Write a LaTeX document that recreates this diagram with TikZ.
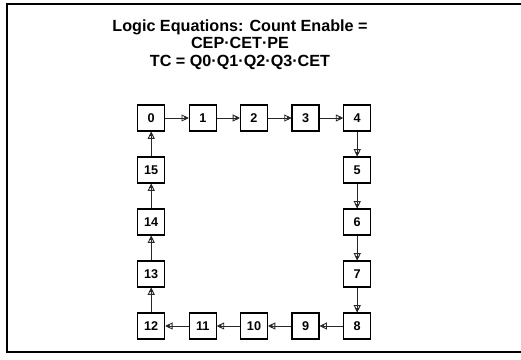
\documentclass[tikz,border=0pt]{standalone}
\usepackage{fontspec}
\setmainfont{Liberation Sans}
\usepackage{xcolor}
\definecolor{inkgray}{RGB}{40,40,40}
\usetikzlibrary{arrows.meta}

\begin{document}
\begin{tikzpicture}[
  state/.style={draw=black,line width=1.1pt,minimum width=6.75mm,minimum height=6.5mm,inner sep=0pt,font=\fontsize{9}{10}\selectfont\bfseries},
  link/.style={draw=inkgray,line width=0.6pt,-{Triangle[open,length=5pt,width=5pt,sep=-3pt]Triangle[length=3pt,width=3pt]}},
  frame/.style={line width=1.4pt},
  title/.style={font=\fontsize{11.5}{12.2}\selectfont\bfseries,align=center}
]
  \useasboundingbox (0,0) rectangle (13.025,8.975);

  % Frame (open at the right)
  \draw[frame] (13.2,8.875) -- (0.175,8.875) -- (0.175,0.175) -- (13.2,0.175);

  % Equations
  \node[title] (eqn) at (6.0,7.86) {Logic Equations: Count Enable =\\CEP·CET·PE\\TC = Q0·Q1·Q2·Q3·CET};

  % Top row
  \node[state] (s0) at (3.78,6.025) {0};
  \node[state] (s1) at (5.07,6.025) {1};
  \node[state] (s2) at (6.35,6.025) {2};
  \node[state] (s3) at (7.64,6.025) {3};
  \node[state] (s4) at (8.93,6.025) {4};

  % Right column
  \node[state] (s5) at (8.93,4.725) {5};
  \node[state] (s6) at (8.93,3.425) {6};
  \node[state] (s7) at (8.93,2.125) {7};

  % Bottom row
  \node[state] (s8) at (8.93,0.825) {8};
  \node[state] (s9) at (7.64,0.825) {9};
  \node[state] (s10) at (6.35,0.825) {10};
  \node[state] (s11) at (5.07,0.825) {11};
  \node[state] (s12) at (3.78,0.825) {12};

  % Left column
  \node[state] (s13) at (3.78,2.125) {13};
  \node[state] (s14) at (3.78,3.425) {14};
  \node[state] (s15) at (3.78,4.725) {15};

  % Count sequence
  \foreach \a/\b in {0/1,1/2,2/3,3/4,4/5,5/6,6/7,7/8,8/9,9/10,10/11,11/12,12/13,13/14,14/15,15/0}
    \draw[link] (s\a) -- (s\b);
\end{tikzpicture}
\end{document}
